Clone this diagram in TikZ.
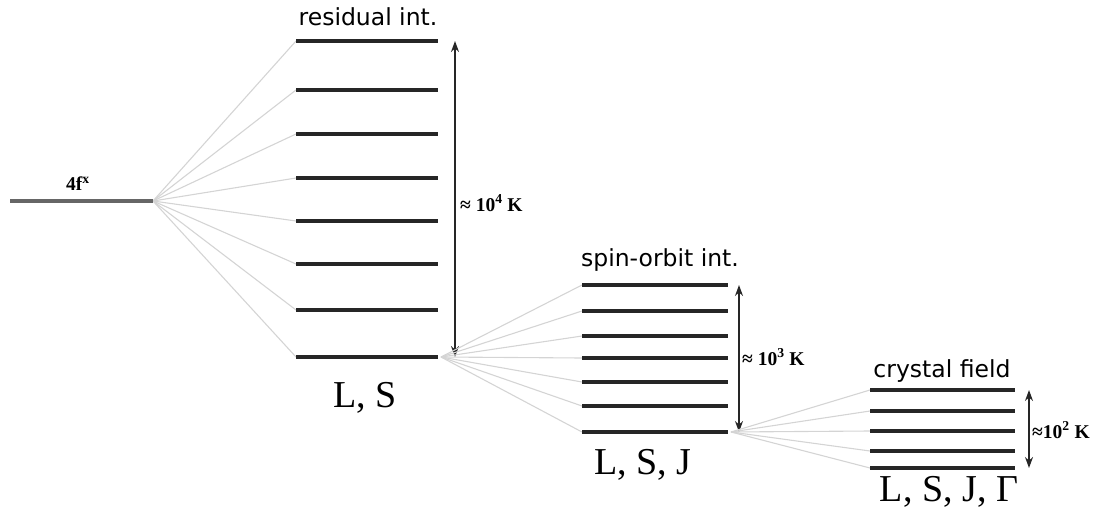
\documentclass[tikz,border=0pt]{standalone}
\usepackage{fontspec}
\setmainfont{Liberation Serif}
\newfontfamily\labelsans{DejaVu Sans}
\usetikzlibrary{arrows.meta}
\tikzset{
  lvl/.style={line width=3.2pt, draw=black!85},
  ground/.style={line width=4.5pt, draw=black!60},
  fan/.style={line width=1.1pt, draw=black!17},
  gap/.style={{Stealth[length=11pt,width=8pt]}-{Stealth[length=11pt,width=8pt]}, line width=1.5pt, draw=black!85},
  title/.style={font=\labelsans\fontsize{23.5}{26}\selectfont, inner sep=0pt},
  quantum/.style={font=\fontsize{38}{40}\selectfont, inner sep=0pt},
  scale label/.style={font=\bfseries\fontsize{19.5}{21}\selectfont, inner sep=0pt, anchor=west},
}
\begin{document}
\begin{tikzpicture}[x=1pt,y=-1pt]
\useasboundingbox (0,0) rectangle (1107,511);

% unsplit 4f^x configuration
\coordinate (g0) at (10,201);
\coordinate (o1) at (153,201);
\node[font=\bfseries\fontsize{19.5}{21}\selectfont, inner sep=0pt] (gl) at (78,184) {4f\textsuperscript{x}};

% residual interaction: L, S terms
\foreach \i/\y in {1/41,2/90,3/134,4/178,5/221,6/264,7/310,8/357}{
  \coordinate (r\i a) at (296,\y);
  \coordinate (r\i b) at (438,\y);
  \draw[fan] (o1) -- (r\i a);
}
\foreach \i in {1,...,8}{ \draw[lvl] (r\i a) -- (r\i b); }
\draw[ground] (g0) -- (o1);
\coordinate (a1t) at (455,41);
\coordinate (a1b) at (455,357);
\draw[gap] (a1t) -- (a1b);
\node[scale label] (k4) at (460,203) {≈ 10\textsuperscript{4} K};
\node[title] (t1) at (368,17) {residual int.};
\node[quantum] (q1) at (365,398) {L, S};

% spin-orbit interaction: L, S, J multiplets
\coordinate (o2) at (441,357);
\foreach \i/\y in {1/285,2/311,3/336,4/358,5/382,6/406,7/432}{
  \coordinate (s\i a) at (582,\y);
  \coordinate (s\i b) at (728,\y);
  \draw[fan] (o2) -- (s\i a);
}
\foreach \i in {1,...,7}{ \draw[lvl] (s\i a) -- (s\i b); }
\coordinate (a2t) at (739,285);
\coordinate (a2b) at (739,432);
\draw[gap] (a2t) -- (a2b);
\node[scale label] (k3) at (742,357) {≈ 10\textsuperscript{3} K};
\node[title] (t2) at (660,260) {spin-orbit int.};
\node[quantum] (q2) at (643,465) {L, S, J};

% crystal field: L, S, J, Gamma states
\coordinate (o3) at (731,432);
\foreach \i/\y in {1/390,2/411,3/431,4/451,5/468}{
  \coordinate (c\i a) at (870,\y);
  \coordinate (c\i b) at (1015,\y);
  \draw[fan] (o3) -- (c\i a);
}
\foreach \i in {1,...,5}{ \draw[lvl] (c\i a) -- (c\i b); }
\coordinate (a3t) at (1029,390);
\coordinate (a3b) at (1029,468);
\draw[gap] (a3t) -- (a3b);
\node[scale label] (k2) at (1032,430) {≈10\textsuperscript{2} K};
\node[title] (t3) at (942,371) {crystal field};
\node[quantum] (q3) at (949,492) {L, S, J, Γ};
\end{tikzpicture}
\end{document}
